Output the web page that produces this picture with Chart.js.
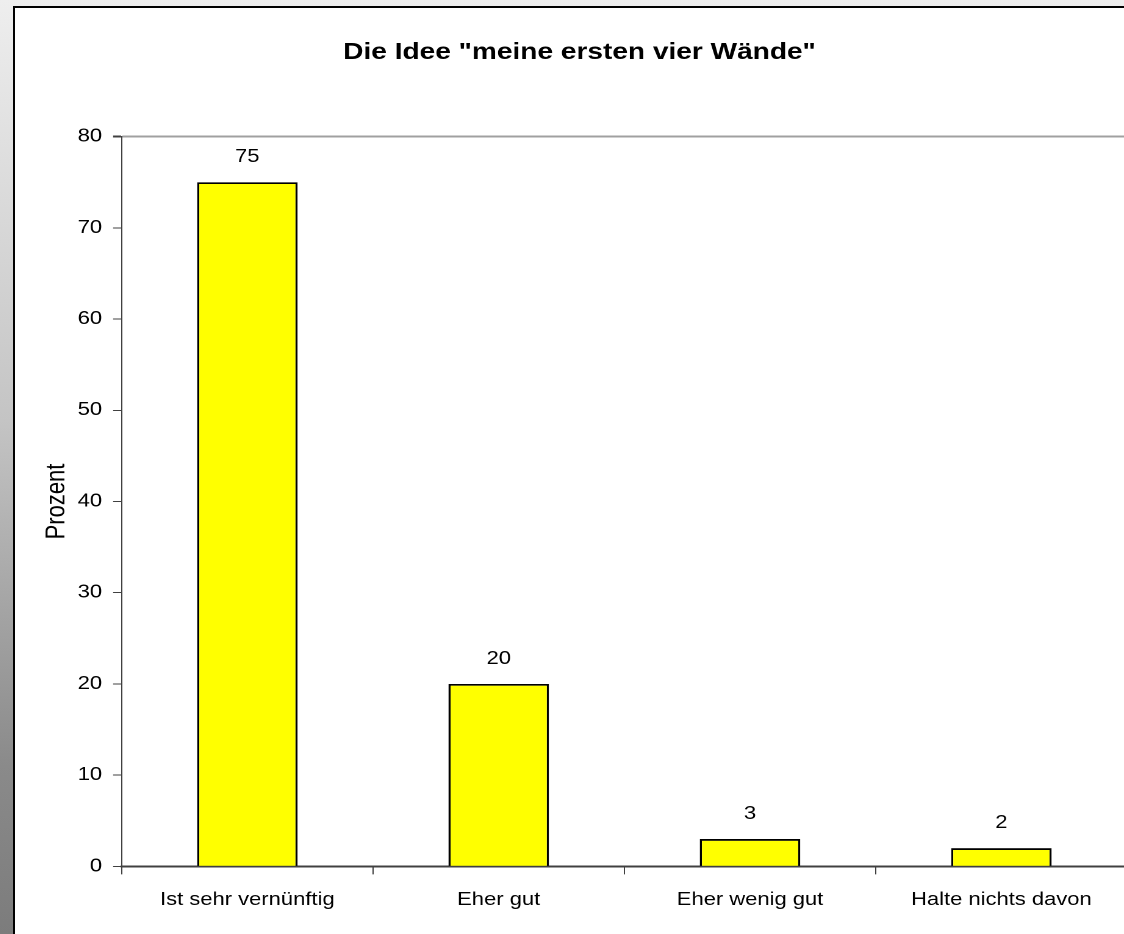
<!DOCTYPE html>
<html>
<head>
<meta charset="utf-8">
<script src="https://cdn.jsdelivr.net/npm/chart.js@4/dist/chart.umd.min.js"></script>
<style>
  html, body { margin: 0; padding: 0; width: 1124px; height: 934px; overflow: hidden; }
  body { background: linear-gradient(to bottom, #eeeeee 0%, #c4c4c4 45%, #8a8a8a 82%, #7c7c7c 100%); }
  #box { position: absolute; left: 13px; top: 6px; width: 1200px; height: 1000px; background: #fff;
         border-left: 2px solid #000; border-top: 2px solid #000; }
  #c { position: absolute; left: 0; top: 0; transform: scaleX(1.22); transform-origin: 0 0; }
</style>
</head>
<body>
<div id="box"><canvas id="c" width="915" height="926"></canvas></div>
<script>
var chartTitle = 'Die Idee "meine ersten vier Wände"';
var yTitle = 'Prozent';
var categories = ['Ist sehr vernünftig', 'Eher gut', 'Eher wenig gut', 'Halte nichts davon'];
var values = [75, 20, 3, 2];
var yMin = 0, yMax = 80, yStep = 10;

var fontFam = '"Liberation Sans", Arial, sans-serif';

// values above the bars
var valueLabels = {
  id: 'valueLabels',
  afterDatasetsDraw: function(chart) {
    var ctx = chart.ctx;
    var meta = chart.getDatasetMeta(0);
    ctx.save();
    ctx.font = '18px ' + fontFam;
    ctx.fillStyle = '#000';
    ctx.textAlign = 'center';
    ctx.textBaseline = 'middle';
    meta.data.forEach(function(bar, i) {
      ctx.fillText(String(values[i]), bar.x, bar.y - 25);
    });
    ctx.restore();
  }
};

new Chart(document.getElementById('c'), {
  type: 'bar',
  data: {
    labels: categories,
    datasets: [{
      data: values,
      backgroundColor: '#ffff00',
      borderColor: '#000',
      borderWidth: 1.8,
      barPercentage: 0.4,
      categoryPercentage: 1
    }]
  },
  options: {
    responsive: false,
    animation: false,
    devicePixelRatio: 2,
    layout: { padding: { left: 14, right: 3.5, top: 0, bottom: 8 } },
    plugins: {
      legend: { display: false },
      tooltip: { enabled: false },
      title: {
        display: true,
        text: chartTitle,
        color: '#000',
        font: { family: fontFam, size: 23, weight: 'bold', lineHeight: 1.2 },
        padding: { top: 31, bottom: 70 }
      }
    },
    scales: {
      x: {
        grid: { offset: true, drawOnChartArea: false, tickLength: 8, tickColor: '#404040', lineWidth: 1 },
        border: { color: '#404040', width: 2 },
        ticks: { color: '#000', font: { family: fontFam, size: 18 }, padding: 15, maxRotation: 0 }
      },
      y: {
        min: yMin,
        max: yMax,
        afterFit: function(s) { s.width -= 9; },
        grid: {
          drawOnChartArea: true,
          tickLength: 7,
          tickColor: '#404040',
          color: function(c) { return c.tick && c.tick.value === yMax ? '#a0a0a0' : 'rgba(0,0,0,0)'; },
          lineWidth: function(c) { return c.tick && c.tick.value === yMax ? 2 : 1; }
        },
        border: { color: '#404040', width: 1 },
        ticks: { stepSize: yStep, color: '#000', font: { family: fontFam, size: 18 }, padding: 9 },
        title: {
          display: true,
          text: yTitle,
          color: '#000',
          font: { family: fontFam, size: 22, lineHeight: 1.2 },
          padding: { top: 7, bottom: 4 }
        }
      }
    }
  },
  plugins: [valueLabels]
});
</script>
</body>
</html>
